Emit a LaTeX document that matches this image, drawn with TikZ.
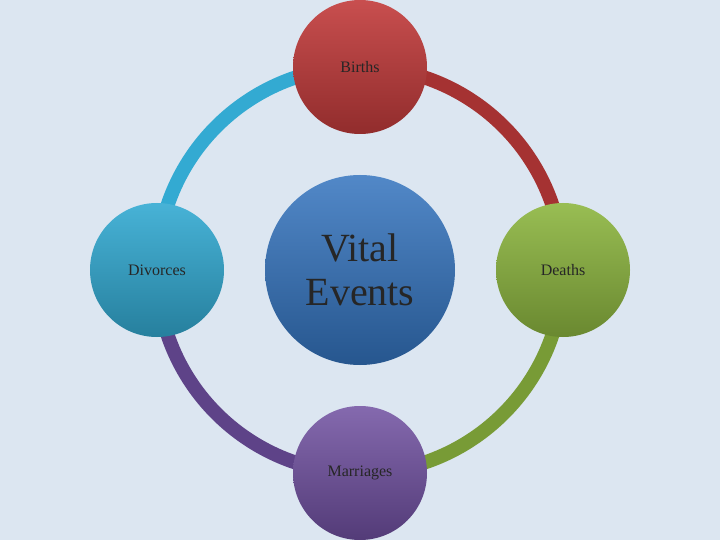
\documentclass[tikz,border=0pt]{standalone}
\usepackage{fontspec}
\setmainfont{Liberation Serif}
\usetikzlibrary{positioning}

\definecolor{bgblue}{HTML}{DCE6F1}
\definecolor{birthred}{HTML}{C23B3B}
\definecolor{deathgreen}{HTML}{8DB640}
\definecolor{marrpurple}{HTML}{6F4FA0}
\definecolor{divcyan}{HTML}{33AAD2}
\definecolor{vitalblue}{HTML}{3373BE}

\tikzset{
  event/.style={circle, minimum size=134pt, inner sep=0pt, text=black!85,
    font=\fontsize{16}{18}\selectfont},
  hub/.style={circle, minimum size=190pt, inner sep=0pt, text=black!85,
    font=\fontsize{40}{44}\selectfont, align=center},
  ring/.style={line width=14pt}
}

\begin{document}
\begin{tikzpicture}[x=1pt,y=-1pt]
\fill[bgblue] (0,0) rectangle (720,540);
\useasboundingbox (0,0) rectangle (720,540);

% ring segments
\draw[ring, birthred!85!black] (360,270) ++(-90:203) arc[start angle=-90, end angle=0, radius=203];
\draw[ring, deathgreen!85!black] (360,270) ++(0:203) arc[start angle=0, end angle=90, radius=203];
\draw[ring, marrpurple!85!black] (360,270) ++(90:203) arc[start angle=90, end angle=180, radius=203];
\draw[ring, divcyan] (360,270) ++(180:203) arc[start angle=180, end angle=270, radius=203];

% circles
\node[hub, top color=vitalblue!85!white, bottom color=vitalblue!75!black] (vital) at (360,270) {Vital\\Events};
\node[event, top color=birthred!90!white, bottom color=birthred!75!black] (births) at (360,67) {Births};
\node[event, top color=deathgreen!90!white, bottom color=deathgreen!75!black] (deaths) at (563,270) {Deaths};
\node[event, top color=marrpurple!85!white, bottom color=marrpurple!75!black] (marriages) at (360,473) {Marriages};
\node[event, top color=divcyan!90!white, bottom color=divcyan!75!black] (divorces) at (157,270) {Divorces};
\end{tikzpicture}
\end{document}
